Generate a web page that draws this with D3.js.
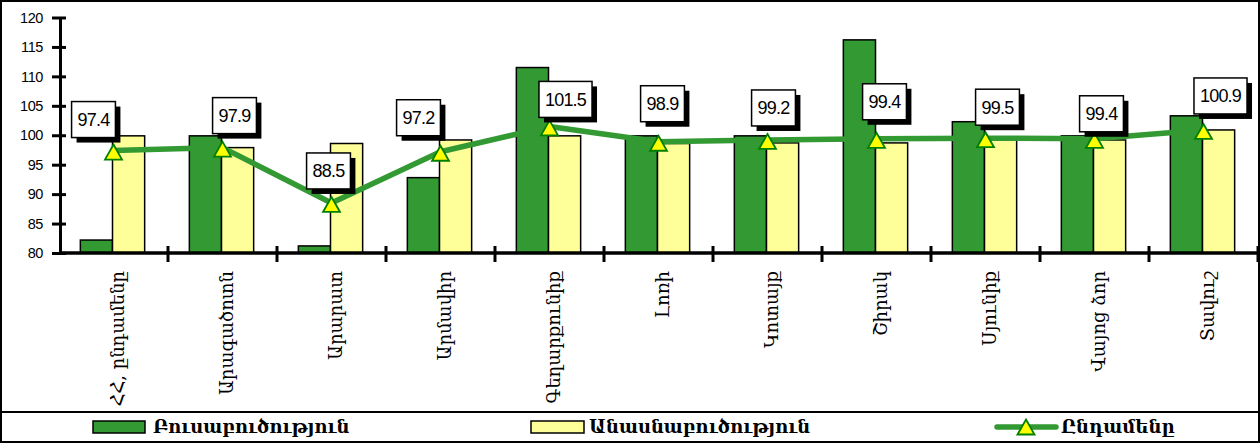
<!DOCTYPE html>
<html>
<head>
<meta charset="utf-8">
<script src="https://cdn.jsdelivr.net/npm/d3@7"></script>
<style>
  body { margin: 0; background: #fff; }
  svg { display: block; }
</style>
</head>
<body>
<script>
const categories = ['ՀՀ, ընդամենը', 'Արագածոտն', 'Արարատ', 'Արմավիր', 'Գեղարքունիք', 'Լոռի',
  'Կոտայք', 'Շիրակ', 'Սյունիք', 'Վայոց ձոր', 'Տավուշ']
const cropValues = [82.2, 99.9, 81.2, 92.8, 111.5, 99.9, 99.9, 116.2, 102.3, 99.9, 103.3]
const livestockValues = [99.9, 97.9, 98.6, 99.2, 99.9, 98.6, 98.7, 98.7, 99.6, 99.2, 100.9]
const totalValues = [97.4, 97.9, 88.5, 97.2, 101.5, 98.9, 99.2, 99.4, 99.5, 99.4, 100.9]
const yTicks = [80, 85, 90, 95, 100, 105, 110, 115, 120]
const seriesNames = ['Բուսաբուծություն', 'Անասնաբուծություն', 'Ընդամենը']

// where each value box sits relative to its marker (px)
const labelShift = [[-20, -31], [12, -32], [-3, -32], [-22, -34], [16, -27], [4, -38],
  [6, -32], [8, -37], [12, -31], [7, -25], [17, -34]]

const width = 1260
const height = 443
const green = '#339933'
const yellow = '#FFFF99'
const armFont = '"DejaVu Serif", "DejaVu Sans", serif'

const svg = d3.select('body')
  .append('svg')
  .attr('width', width)
  .attr('height', height)

const x = d3.scaleBand()
  .domain(d3.range(categories.length))
  .range([59, 1258])
  .padding(0)

const y = d3.scaleLinear()
  .domain([80, 120])
  .range([253, 17.5])

const barW = x.bandwidth() * 0.295
const cx = i => x(i) + x.bandwidth() / 2

// outer frame + legend separator
svg.append('rect')
  .attr('x', 1).attr('y', 1)
  .attr('width', width - 2).attr('height', height - 2)
  .attr('fill', 'none').attr('stroke', '#000').attr('stroke-width', 2)
svg.append('line')
  .attr('x1', 1).attr('x2', width - 1)
  .attr('y1', 412).attr('y2', 412)
  .attr('stroke', '#000').attr('stroke-width', 2)

// bars
svg.append('g')
  .selectAll('rect')
  .data(cropValues)
  .enter()
  .append('rect')
  .attr('x', (d, i) => cx(i) - barW - 1)
  .attr('y', d => y(d))
  .attr('width', barW)
  .attr('height', d => y(80) - y(d))
  .attr('fill', green)
  .attr('stroke', '#000')
  .attr('stroke-width', 1.5)

svg.append('g')
  .selectAll('rect')
  .data(livestockValues)
  .enter()
  .append('rect')
  .attr('x', (d, i) => cx(i) - 1)
  .attr('y', d => y(d))
  .attr('width', barW)
  .attr('height', d => y(80) - y(d))
  .attr('fill', yellow)
  .attr('stroke', '#000')
  .attr('stroke-width', 1.5)

// y axis
const yAxis = svg.append('g')
  .attr('transform', 'translate(60,0)')
  .call(d3.axisLeft(y).tickValues(yTicks).tickSize(8).tickSizeOuter(0).tickPadding(10))
yAxis.select('.domain').attr('stroke-width', 3)
yAxis.selectAll('.tick line').attr('x1', 6).attr('stroke-width', 3)
yAxis.selectAll('.tick text')
  .attr('font-family', 'Arial, "Liberation Sans", sans-serif')
  .attr('font-size', 14.5)
  .attr('letter-spacing', -0.4)
  .attr('fill', '#000')
  .attr('x', -17)

// x axis
const xAxis = svg.append('g')
xAxis.append('line')
  .attr('x1', 60).attr('x2', 1258)
  .attr('y1', y(80)).attr('y2', y(80))
  .attr('stroke', '#000').attr('stroke-width', 3.5)
xAxis.selectAll('line.tk')
  .data(d3.range(1, categories.length + 1))
  .enter()
  .append('line')
  .attr('class', 'tk')
  .attr('x1', i => x(0) + i * x.bandwidth())
  .attr('x2', i => x(0) + i * x.bandwidth())
  .attr('y1', y(80) - 7).attr('y2', y(80) + 9)
  .attr('stroke', '#000').attr('stroke-width', 3)

xAxis.selectAll('text')
  .data(categories)
  .enter()
  .append('text')
  .attr('transform', (d, i) => 'translate(' + (cx(i) + 4) + ',' + 271 + ') rotate(-90)')
  .attr('text-anchor', 'end')
  .attr('dy', '0.35em')
  .attr('font-family', armFont)
  .attr('font-size', 18)
  .attr('fill', '#000')
  .text(d => d)

// total line
const line = d3.line()
  .x((d, i) => cx(i))
  .y(d => y(d))

svg.append('path')
  .datum(totalValues)
  .attr('d', line)
  .attr('fill', 'none')
  .attr('stroke', green)
  .attr('stroke-width', 5.5)
  .attr('stroke-linejoin', 'round')

const tri = 'M0,-7.5L8.5,7.5L-8.5,7.5Z'
svg.append('g')
  .selectAll('path')
  .data(totalValues)
  .enter()
  .append('path')
  .attr('d', tri)
  .attr('transform', (d, i) => 'translate(' + cx(i) + ',' + (y(d) + 1.5) + ')')
  .attr('fill', '#FFFF00')
  .attr('stroke', '#008000')
  .attr('stroke-width', 1.8)

// value boxes
const labels = svg.append('g')
  .selectAll('g')
  .data(totalValues)
  .enter()
  .append('g')
  .attr('transform', (d, i) => 'translate(' + (cx(i) + labelShift[i][0]) + ',' + (y(d) + labelShift[i][1]) + ')')

labels.each(function (d) {
  const g = d3.select(this)
  const t = g.append('text')
    .attr('text-anchor', 'middle')
    .attr('dy', '0.36em')
    .attr('font-family', 'Arial, "Liberation Sans", sans-serif')
    .attr('font-size', 18)
    .attr('letter-spacing', -0.8)
    .attr('fill', '#000')
    .text(d3.format('.1f')(d))
  const w = t.node().getComputedTextLength() + 12
  const h = 36
  g.insert('rect', 'text')
    .attr('x', -w / 2 + 5).attr('y', -h / 2 + 5)
    .attr('width', w).attr('height', h)
    .attr('fill', '#000')
  g.insert('rect', 'text')
    .attr('x', -w / 2).attr('y', -h / 2)
    .attr('width', w).attr('height', h)
    .attr('fill', '#fff')
    .attr('stroke', '#000')
    .attr('stroke-width', 1.5)
})

// legend
const legend = svg.append('g')
const ly = 427
legend.append('rect')
  .attr('x', 93).attr('y', ly - 6).attr('width', 52).attr('height', 12)
  .attr('fill', green).attr('stroke', '#000').attr('stroke-width', 1.5)
legend.append('rect')
  .attr('x', 531).attr('y', ly - 6).attr('width', 53).attr('height', 12)
  .attr('fill', yellow).attr('stroke', '#000').attr('stroke-width', 1.5)
legend.append('line')
  .attr('x1', 997).attr('x2', 1056).attr('y1', ly).attr('y2', ly)
  .attr('stroke', green).attr('stroke-width', 5.5).attr('stroke-linecap', 'round')
legend.append('path')
  .attr('d', tri)
  .attr('transform', 'translate(1026,' + ly + ')')
  .attr('fill', '#FFFF00').attr('stroke', '#008000').attr('stroke-width', 1.8)

legend.selectAll('text')
  .data(seriesNames)
  .enter()
  .append('text')
  .attr('x', (d, i) => [153, 589, 1061][i])
  .attr('y', ly)
  .attr('dy', '0.35em')
  .attr('font-family', armFont)
  .attr('font-weight', 'bold')
  .attr('font-size', 18)
  .attr('fill', '#000')
  .text(d => d)
</script>
</body>
</html>
